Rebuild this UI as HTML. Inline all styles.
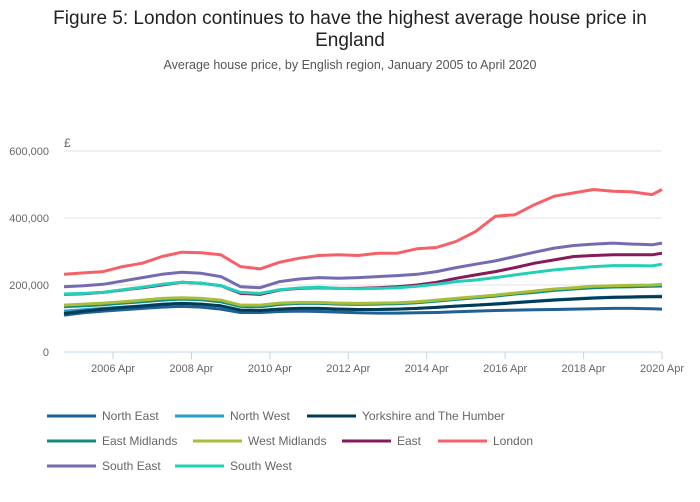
<!DOCTYPE html>
<html><head><meta charset="utf-8"><style>
body{margin:0;background:#fff;font-family:"Liberation Sans",sans-serif;}
#wrap{position:relative;width:700px;height:502px;overflow:hidden;}
</style></head><body>
<div id="wrap">
<svg id="chart" width="700" height="502">
<text x="350" y="24" text-anchor="middle" font-size="19" fill="#222">Figure 5: London continues to have the highest average house price in</text>
<text x="350" y="46" text-anchor="middle" font-size="19" fill="#222">England</text>
<text x="350" y="69" text-anchor="middle" font-size="12.5" fill="#555">Average house price, by English region, January 2005 to April 2020</text>
<text x="64" y="147" font-size="12" fill="#666">£</text>
<g id="grid"></g><g id="lines"></g><g id="legend"></g>
</svg></div>
<script>
const dates=[2005,2005.5,2006,2006.5,2007,2007.5,2008,2008.5,2009,2009.5,2010,2010.5,2011,2011.5,2012,2012.5,2013,2013.5,2014,2014.5,2015,2015.5,2016,2016.5,2017,2017.5,2018,2018.5,2019,2019.5,2020,2020.25];
const names=["North East","North West","Yorkshire and The Humber","East Midlands","West Midlands","East","London","South East","South West"];
const colors=["#206095","#27a0cc","#003c57","#118c7b","#a8bd3a","#871a5b","#f66068","#746cb1","#22d0b6"];
const northEast=[110,117,122,126,130,134,136,134,128,118,118,121,122,121,119,117,116,116,117,118,120,122,124,125,126,127,128,129,130,130,129,128];
const northWest=[122,126,130,134,138,143,145,143,137,125,124,128,130,130,128,127,127,128,130,133,137,140,144,148,152,156,159,162,164,165,166,167];
const yorkshire=[115,122,128,133,137,142,145,143,138,125,124,128,130,130,128,127,127,128,130,133,137,140,143,147,151,155,158,161,163,164,165,165];
const eastMidlands=[135,138,141,146,150,155,158,156,150,136,135,142,145,145,143,142,143,144,147,152,157,162,167,173,178,184,188,192,194,195,196,197];
const westMidlands=[140,143,146,150,155,160,162,160,155,140,140,146,148,148,146,145,146,147,150,155,160,165,170,176,182,188,192,196,198,199,200,202];
const east=[172,174,178,185,192,200,208,205,198,175,172,185,190,192,190,190,192,195,200,208,220,230,240,252,265,275,285,288,290,290,290,295];
const london=[232,236,240,255,265,285,298,296,290,255,248,268,280,288,290,288,295,295,308,312,330,360,405,410,440,465,475,485,480,478,470,485];
const southEast=[195,198,202,212,222,232,238,235,225,195,192,210,218,222,220,222,225,228,232,240,252,262,272,285,298,310,318,322,325,322,320,325];
const southWest=[173,175,178,186,193,202,208,205,198,178,175,186,191,193,190,189,190,192,196,202,210,215,222,230,238,245,250,255,258,258,257,262];
const series=[northEast,northWest,yorkshire,eastMidlands,westMidlands,east,london,southEast,southWest];
const yTicks=[0,200000,400000,600000];
const yTickLabels=["0","200,000","400,000","600,000"];
const xTicks=[2006.25,2008.25,2010.25,2012.25,2014.25,2016.25,2018.25,2020.25];
const xTickLabels=["2006 Apr","2008 Apr","2010 Apr","2012 Apr","2014 Apr","2016 Apr","2018 Apr","2020 Apr"];
const NS="http://www.w3.org/2000/svg";
const x0=64,x1=662,y0=352,y1=151;
function xs(d){return x0+(d-2005)/(15.25)*(x1-x0);}
function ys(v){return y0-v/600000*(y0-y1);}
function mk(t,a,p){const e=document.createElementNS(NS,t);for(const k in a)e.setAttribute(k,a[k]);p.appendChild(e);return e;}
const grid=document.getElementById('grid');
yTicks.forEach((v,i)=>{
  const l=mk('line',{x1:x0,x2:x1,y1:ys(v),y2:ys(v),stroke:v===0?'#c6d4e6':'#e2e2e2','stroke-width':1},grid);
  
  
  const t=mk('text',{x:49,y:ys(v)+4,'text-anchor':'end','font-size':11,fill:'#666'},grid);
  t.textContent=yTickLabels[i];
  
  
});
xTicks.forEach((d,i)=>{
  const l=mk('line',{x1:xs(d),x2:xs(d),y1:y0,y2:y0+7,stroke:'#c6d4e6'},grid);
  
  
  const t=mk('text',{x:xs(d),y:372,'text-anchor':'middle','font-size':11,fill:'#666'},grid);
  t.textContent=xTickLabels[i];
  
  
});
const lines=document.getElementById('lines');
series.forEach((s,i)=>{
  const p=mk('path',{d:s.map((v,j)=>(j?'L':'M')+xs(dates[j]).toFixed(1)+','+ys(v*1000).toFixed(1)).join(''),fill:'none',stroke:colors[i],'stroke-width':3,'stroke-linejoin':'round'},lines);
  
  
});
const leg=document.getElementById('legend');
const lp=[[47,416],[175,416],[307,416],[47,441],[193,441],[342,441],[438,441],[47,466],[175,466]];
names.forEach((n,i)=>{
  const [x,y]=lp[i];
  const l=mk('line',{x1:x,x2:x+49,y1:y,y2:y,stroke:colors[i],'stroke-width':3},leg);
  
  
  const t=mk('text',{x:x+55,y:y+4,'font-size':12,fill:'#666'},leg);
  t.textContent=n;
  
  
});
</script>
</body></html>
